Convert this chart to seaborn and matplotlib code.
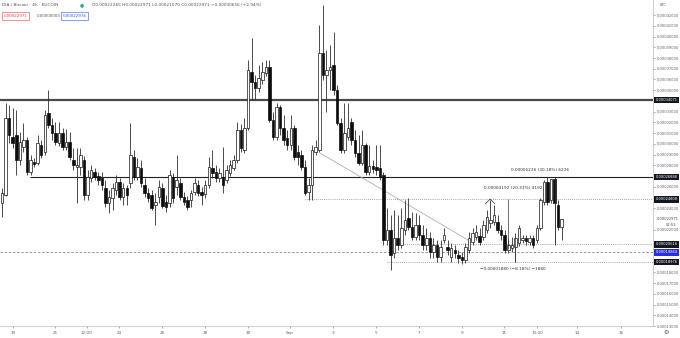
import matplotlib
matplotlib.use("Agg")
import matplotlib.pyplot as plt
import seaborn as sns
import numpy as np
import pandas as pd
from matplotlib.transforms import blended_transform_factory

# ---- data (prices in satoshi, 1e-8 BTC) ----
opens = [24480, 25220, 32410, 30630, 30820, 28490, 29700, 30350, 27370, 28300,
         28210, 29890, 29230, 32870, 31750, 31010, 30070, 31010, 29700, 30170,
         28490, 27840, 27840, 28490, 25220, 26810, 27370, 27000, 26810, 25880,
         24480, 24940, 25690, 26440, 25040, 25880, 26340, 28770, 26900, 27740,
         26160, 25410, 25220, 24290, 25040, 25880, 24570, 24480, 26900, 25970,
         26340, 25040, 24760, 24760, 25500, 26160, 25500, 25320, 26160, 27740,
         27370, 26810, 26900, 26620, 27280, 27740, 28490, 31290, 29420, 31470,
         36700, 35770, 35210, 35950, 36610, 37170, 32220, 30630, 33430, 31470,
         30540, 29890, 31470, 29230, 28960, 27840, 25500, 26160, 29230, 29420,
         38470, 36420, 36890, 37350, 35020, 31940, 29420, 30630, 32030, 30350,
         29140, 28210, 29890, 27370, 27930, 27840, 27740, 27090, 21020, 21960,
         19810, 21210, 20560, 21960, 23080, 22240, 21300, 22420, 21490, 20560,
         21210, 19900, 20560, 19440, 21020, 20370, 19440, 20090, 19620, 19440,
         19160, 20090, 20840, 21300, 21400, 21300, 21960, 22610, 22700, 22700,
         21960, 21490, 20090, 20280, 20370, 20740, 21020, 21210, 20840, 21210,
         21020, 22140, 24570, 26440, 24760, 26700, 24290, 22265]
highs = [25880, 33810, 33620, 33340, 33150, 31100, 31940, 30630, 28960, 28680,
         30820, 30350, 33150, 35020, 32410, 32030, 32030, 31470, 31380, 31100,
         29610, 29610, 29610, 28860, 27560, 28020, 27740, 27370, 27370, 26620,
         25690, 26340, 27090, 26810, 26340, 26160, 31940, 29420, 28680, 28490,
         26810, 25880, 25690, 25410, 26620, 26340, 25220, 27560, 27280, 28960,
         26810, 25500, 25130, 25690, 26810, 26620, 25970, 26620, 28770, 29420,
         28020, 27740, 29700, 28020, 28490, 28960, 32030, 31850, 32410, 37820,
         39870, 36420, 37350, 37630, 37820, 37820, 32970, 33810, 33620, 32690,
         31290, 32690, 31750, 29890, 29420, 28490, 26810, 29890, 30350, 41080,
         42950, 38750, 39220, 40430, 35490, 32410, 33810, 33810, 32410, 31290,
         30820, 31290, 30070, 29890, 28490, 29890, 29890, 27370, 24010, 23360,
         23820, 23360, 24010, 24760, 24940, 23640, 23540, 23360, 22420, 22140,
         21770, 21210, 21020, 21020, 22140, 21020, 20740, 20560, 20090, 19900,
         20740, 21770, 22140, 22420, 22140, 22890, 23820, 24760, 24290, 23360,
         22420, 21960, 21210, 21300, 21680, 22420, 21490, 21490, 21490, 21490,
         22420, 24940, 26600, 26860, 26700, 26800, 24760, 22971]
lows = [23170, 25130, 30070, 29610, 27090, 28020, 29230, 27090, 27090, 27840,
        28020, 28680, 28960, 31470, 30350, 29890, 29790, 29420, 29420, 28490,
        27560, 24480, 27090, 24760, 24760, 26440, 26620, 26160, 25690, 24100,
        23540, 23820, 25220, 24760, 24290, 24290, 25880, 26620, 26620, 25970,
        25040, 24570, 23820, 22420, 24480, 24010, 23640, 24100, 24480, 25220,
        24760, 24290, 23820, 24100, 25220, 25130, 24290, 24940, 25880, 26810,
        26440, 26440, 25410, 26340, 27000, 27560, 28210, 29230, 29140, 31290,
        34090, 34090, 34830, 35580, 36330, 32030, 30350, 30350, 30820, 29890,
        29420, 29420, 28490, 28020, 27560, 25220, 24760, 24760, 28960, 29230,
        35950, 32970, 35020, 34550, 31750, 29140, 29140, 30350, 29890, 28770,
        28020, 28020, 27090, 27090, 27280, 27090, 26620, 20560, 20560, 18230,
        19350, 20090, 20280, 21490, 21960, 21020, 21020, 21020, 20090, 20090,
        19350, 19350, 18970, 18970, 20740, 19620, 18970, 19350, 18880, 18790,
        18880, 19810, 20560, 21020, 20560, 21020, 21680, 22140, 22420, 21680,
        21020, 19810, 19810, 19900, 18970, 20460, 20740, 20560, 20560, 20280,
        20740, 21960, 24290, 24290, 24480, 20560, 21960, 21070]
closes = [25410, 32410, 30820, 30070, 28490, 30170, 30350, 27370, 28490, 28120,
          30070, 28960, 32690, 31750, 31010, 30170, 31010, 29700, 30170, 28770,
          28020, 28020, 28960, 25220, 26900, 27560, 26900, 26620, 26160, 24480,
          25040, 25880, 26440, 25040, 25880, 25220, 28960, 26900, 27840, 26340,
          25410, 24940, 24010, 24570, 25970, 24200, 24100, 27090, 24940, 26620,
          25040, 24570, 24100, 25410, 26340, 25410, 25220, 26160, 27840, 27280,
          26810, 27280, 26160, 27560, 28020, 28490, 31290, 29610, 31470, 36890,
          35770, 35210, 36140, 36700, 37170, 32220, 30630, 33430, 31470, 30350,
          29890, 31470, 28770, 28770, 27840, 25410, 26160, 29420, 29700, 38470,
          36420, 36890, 37170, 35020, 31940, 29420, 31010, 31470, 30350, 29140,
          28210, 29890, 27370, 27930, 27650, 27560, 26900, 21020, 21960, 19620,
          21210, 20560, 22140, 22890, 22240, 21300, 22420, 21490, 20560, 21210,
          19900, 20560, 19440, 20370, 21490, 20090, 20280, 19810, 19350, 19160,
          20370, 21210, 21680, 21770, 20840, 22420, 23170, 22890, 23360, 21960,
          21490, 20090, 20560, 20560, 21210, 22140, 21210, 20930, 21210, 20560,
          22140, 24760, 26440, 24570, 26700, 24480, 22240, 22971]

xtick_pos = [3.1, 14.9, 23.8, 32.8, 44.9, 56.9, 69.0, 80.8, 92.8, 104.9,
             117.0, 129.0, 140.8, 150.1, 161.3, 173.6]
xtick_labels = ["19", "21", "12:00", "24", "26", "28", "30", "Sep", "3", "5",
                "7", "9", "11", "13:00", "14", "16"]

level_thick = 34071
level_solid = 26888
level_dot1 = 24808
level_dot2 = 20616
level_dash = 19864
level_dot3 = 18976
last_price = 22971
hidden_ticks = [19000, 20000, 21000, 23000, 25000, 27000, 34000]

# ---- style ----
sns.set_theme(style="white")
plt.rcParams['font.family'] = ['DejaVu Sans']
TXT = "#5f626c"

fig = plt.figure(figsize=(6.8, 3.38), dpi=100)
ax = fig.add_axes([0, 12 / 338, 653 / 680, 326 / 338])

df = pd.DataFrame(dict(o=opens, h=highs, l=lows, c=closes))
df["i"] = np.arange(len(df))
up = df["c"] >= df["o"]

ax.vlines(df["i"], df["l"], df["h"], color="#2e2e2e", lw=0.6, zorder=2)
ub = df[up]
db = df[~up]
ax.bar(ub["i"], np.maximum(ub["c"] - ub["o"], 70), bottom=ub["o"], width=0.7,
       color="white", edgecolor="#151515", linewidth=0.5, zorder=3)
ax.bar(db["i"], np.maximum(db["o"] - db["c"], 70), bottom=db["c"], width=0.7,
       color="#0d0d0d", edgecolor="#0d0d0d", linewidth=0.5, zorder=3)

# horizontal levels
ax.axhline(level_thick, color="#4a4a4a", lw=1.6, zorder=1)
ax.hlines(level_solid, 7.85, 185, color="#222222", lw=0.8, zorder=1)
ax.hlines(level_dot1, 85, 185, color="#8a8a8a", lw=0.6, ls=(0, (1, 1.5)), zorder=1)
ax.hlines(level_dot2, 110, 185, color="#8a8a8a", lw=0.6, ls=(0, (1, 1.5)), zorder=1)
ax.axhline(level_dash, color="#8a8a8a", lw=0.6, ls=(0, (3, 2)), zorder=1)
ax.hlines(level_dot3, 108, 185, color="#8a8a8a", lw=0.6, ls=(0, (1, 1.5)), zorder=1)

# diagonal trend line
trend = pd.DataFrame(dict(x=[89.2, 130.7], y=[29141, 21024]))
sns.lineplot(data=trend, x="x", y="y", ax=ax, color="#b0b0b0", lw=0.6, zorder=1)

# measurement annotations
ax.vlines(155.1, 20630, 26856, color="#333333", lw=0.5, zorder=4)
ax.text(150.9, 27560, "0.00006226 (30.18%) 6226", fontsize=3.1, color="#333333",
        ha="center", va="center", zorder=5)
ax.vlines(141.9, 20160, 24812, color="#333333", lw=0.5, zorder=4)
ax.plot([135.6, 136.9, 138.2], [24400, 24850, 24400], color="#333333", lw=0.5, zorder=4)
ax.text(143.3, 25920, "0.00004192 (20.33%) 4192", fontsize=3.1, color="#333333",
        ha="center", va="center", zorder=5)
ax.vlines(143.9, 18971, 21304, color="#333333", lw=0.5, zorder=4)
ax.text(143.3, 18320, "\u22120.00001880 (\u22128.18%) \u22121880", fontsize=3.1,
        color="#333333", ha="center", va="center", zorder=5)

# axes
ax.set_xlim(-0.561, 182.6)
ax.set_ylim(13000, 43416)
for s in ["left", "top"]:
    ax.spines[s].set_visible(False)
for s in ["right", "bottom"]:
    ax.spines[s].set_color("#c8c8c8")
    ax.spines[s].set_linewidth(0.6)

ax.set_xticks(xtick_pos)
ax.set_xticklabels(xtick_labels)
yt = [v for v in range(13000, 42001, 1000) if v not in hidden_ticks]
ax.yaxis.tick_right()
ax.set_yticks(yt)
ax.set_yticklabels([f"{v / 1e8:.8f}" for v in yt])
ax.tick_params(axis="y", labelsize=2.6, length=1.5, width=0.4, pad=1.2,
               colors=TXT, right=True)
ax.tick_params(axis="x", labelsize=3.0, length=1.5, width=0.4, pad=2.0,
               colors=TXT, bottom=True)
ax.set_xlabel("")
ax.set_ylabel("")
ax.grid(False)

# price-scale boxes
tr = blended_transform_factory(ax.transAxes, ax.transData)
for lv, fc in [(level_thick, "#131722"), (level_solid, "#131722"),
               (level_dot1, "#131722"), (level_dot2, "#131722"),
               (level_dash, "#2a2ee0"), (level_dot3, "#131722")]:
    ax.text(1.004, lv, f"{lv / 1e8:.8f}", transform=tr, fontsize=2.6, color="white",
            ha="left", va="center", clip_on=False, zorder=6,
            bbox=dict(boxstyle="square,pad=0.35", fc=fc, ec="none"))
ax.text(1.006, last_price, f"{last_price / 1e8:.8f}", transform=tr, fontsize=2.6,
        color="#444444", ha="left", va="center", clip_on=False)
ax.text(1.02, last_price - 560, "52:53", transform=tr, fontsize=2.6,
        color="#444444", ha="left", va="center", clip_on=False)
ax.text(1.01, 42950, "BTC", transform=tr, fontsize=2.6, color=TXT,
        ha="left", va="center", clip_on=False)


def ftxt(x, y, s, **kw):
    fig.text(x / 680, 1 - y / 338, s, va="center", **kw)


ftxt(2, 5, "DIA / Bitcoin \u00b7 4h \u00b7 KUCOIN", fontsize=3.1, color="#555555")
ftxt(80, 5, "\u25cf", fontsize=3.4, color="#26a69a")
ftxt(92, 5, "O0.00022265 H0.00022971 L0.00021070 C0.00022971 +0.00000656 (+2.94%)",
     fontsize=3.1, color="#555555")
ftxt(4, 16, "0.00022971", fontsize=2.9, color="#e04040",
     bbox=dict(boxstyle="square,pad=0.4", fc="white", ec="#e04040", lw=0.4))
ftxt(37, 16, "0.00000003", fontsize=2.9, color="#555555")
ftxt(63, 16, "0.00022974", fontsize=2.9, color="#2060d0",
     bbox=dict(boxstyle="square,pad=0.4", fc="white", ec="#2060d0", lw=0.4))
ftxt(666, 333, "\u2699", fontsize=4.5, color="#555555", ha="center")

fig.savefig("out.png", dpi=100)
